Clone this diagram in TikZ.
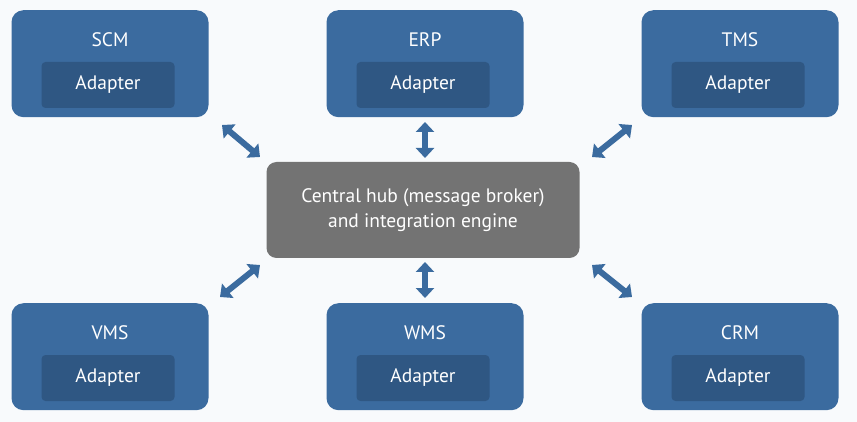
\documentclass[tikz,border=0pt]{standalone}
\usepackage{fontspec}
\setmainfont{PT Sans}
\usetikzlibrary{arrows.meta}
\definecolor{bg}{HTML}{F8FAFC}
\definecolor{sys}{HTML}{3B6B9F}
\definecolor{adp}{HTML}{2F5783}
\definecolor{hub}{HTML}{737373}
\begin{document}
\begin{tikzpicture}[x=1pt,y=-1pt,
  sysbox/.style={fill=sys,rounded corners=12pt,minimum width=197pt,minimum height=107pt,inner sep=0pt},
  adbox/.style={fill=adp,rounded corners=4pt,minimum width=133pt,minimum height=46pt,text=white,font=\fontsize{19.5}{22}\selectfont},
  lbl/.style={text=white,font=\fontsize{19.5}{22}\selectfont},
  conn/.style={draw=sys,line width=6pt,{Triangle[width=18pt,length=10pt]}-{Triangle[width=18pt,length=10pt]}}]
\fill[bg] (0,0) rectangle (857,422);
\foreach \n/\t/\x/\y in {scm/SCM/110/10, erp/ERP/425/10, tms/TMS/740/10, vms/VMS/110/303, wms/WMS/425/303, crm/CRM/740/303}{
  \node[sysbox,anchor=north] (\n) at (\x,\y) {};
  \node[lbl] (\n l) at (\x,\y+30) {\t};
  \node[adbox] (\n a) at (\x-2,\y+75) {Adapter};
}
\node[fill=hub,rounded corners=10pt,minimum width=313pt,minimum height=96pt,text=white,align=center,font=\fontsize{19.5}{25}\selectfont] (hub) at (423,210) {Central hub (message broker)\\and integration engine};
\coordinate (a1) at (222,125); \coordinate (b1) at (260,157);
\coordinate (a2) at (425,122); \coordinate (b2) at (425,158);
\coordinate (a3) at (632,125); \coordinate (b3) at (592,157);
\coordinate (a4) at (220,297); \coordinate (b4) at (260,265);
\coordinate (a5) at (425,298); \coordinate (b5) at (425,262);
\coordinate (a6) at (632,297); \coordinate (b6) at (592,265);
\foreach \i in {1,...,6}{\draw[conn] (a\i) -- (b\i);}
\end{tikzpicture}
\end{document}
